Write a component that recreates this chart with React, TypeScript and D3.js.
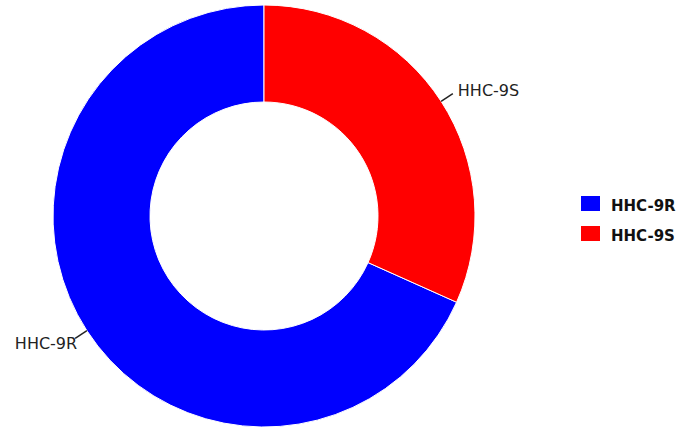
import React from 'react';
import * as d3 from 'd3';

const labels = ['HHC-9R', 'HHC-9S'];
const values = [68.3, 31.7];
const colors = ['#0000ff', '#ff0000'];

const W = 678;
const H = 430;
const cx = 264;
const cy = 216;
const outerR = 211;
const innerR = 114;

const App: React.FC = () => {
  const color = d3.scaleOrdinal<string, string>().domain(labels).range(colors);

  // counterclockwise from 12 o'clock, original order
  const pie = d3
    .pie<number>()
    .sort(null)
    .startAngle(0)
    .endAngle(-2 * Math.PI);
  const arcs = pie(values);

  const arc = d3.arc<d3.PieArcDatum<number>>().innerRadius(innerR).outerRadius(outerR);

  return (
    <svg
      width={W}
      height={H}
      style={{ position: 'absolute', left: 0, top: 0, background: '#fff' }}
      fontFamily="DejaVu Sans, sans-serif"
    >
      <g transform={`translate(${cx},${cy})`}>
        {arcs.map((a, i) => (
          <path key={labels[i]} d={arc(a) || ''} fill={color(labels[i])} stroke="#fff" strokeWidth={1} />
        ))}
        {arcs.map((a, i) => {
          const mid = (a.startAngle + a.endAngle) / 2;
          const sx = Math.sin(mid);
          const cyy = -Math.cos(mid);
          const x0 = sx * outerR;
          const y0 = cyy * outerR;
          const x1 = sx * (outerR + 14);
          const y1 = cyy * (outerR + 14);
          const right = sx > 0;
          return (
            <g key={labels[i] + '-lab'}>
              <line x1={x0} y1={y0} x2={x1} y2={y1} stroke="#222" strokeWidth={1.5} />
              <text
                x={x1 + (right ? 5 : 2)}
                y={y1 + 6.5 - 8 * Math.cos(mid)}
                textAnchor={right ? 'start' : 'end'}
                fontSize={16}
                fill="#222"
              >
                {labels[i]}
              </text>
            </g>
          );
        })}
      </g>
      <g transform="translate(581,196)">
        {labels.map((l, i) => (
          <g key={l} transform={`translate(0,${i * 30})`}>
            <rect width={19} height={15} fill={color(l)} />
            <text x={30} y={15} fontSize={15} fontWeight="bold" fill="#111">
              {l}
            </text>
          </g>
        ))}
      </g>
    </svg>
  );
};

export default App;
